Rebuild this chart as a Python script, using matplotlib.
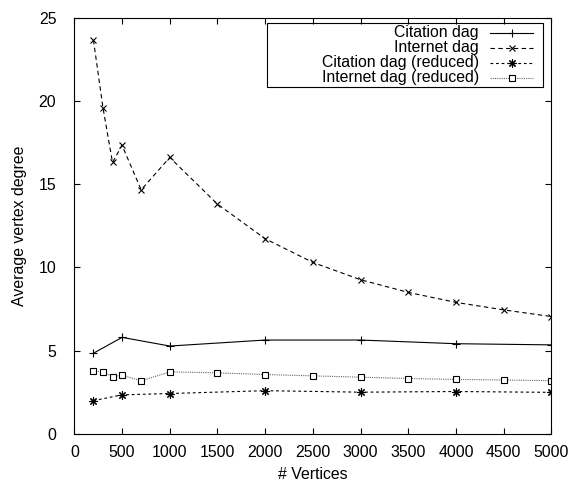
import matplotlib
matplotlib.use('Agg')
import matplotlib.pyplot as plt
from matplotlib.lines import Line2D
from matplotlib.patches import Rectangle

plt.rcParams['font.family'] = ['Liberation Sans', 'DejaVu Sans']

cit_x = [200, 500, 1000, 2000, 3000, 4000, 5000]
cit_y = [4.85, 5.8, 5.28, 5.64, 5.64, 5.42, 5.35]

net_x = [200, 300, 400, 500, 700, 1000, 1500, 2000, 2500, 3000, 3500, 4000, 4500, 5000]
net_y = [23.65, 19.58, 16.3, 17.33, 14.66, 16.6, 13.8, 11.72, 10.3, 9.26, 8.5, 7.9, 7.45, 7.05]

cit_red_x = [200, 500, 1000, 2000, 3000, 4000, 5000]
cit_red_y = [2.0, 2.35, 2.43, 2.6, 2.51, 2.55, 2.5]

net_red_x = [200, 300, 400, 500, 700, 1000, 1500, 2000, 2500, 3000, 3500, 4000, 4500, 5000]
net_red_y = [3.78, 3.74, 3.44, 3.53, 3.19, 3.73, 3.67, 3.57, 3.49, 3.41, 3.33, 3.28, 3.24, 3.2]

labels = ['Citation dag', 'Internet dag', 'Citation dag (reduced)', 'Internet dag (reduced)']

styles = [
    dict(color='black', linestyle='-', marker='+', ms=6, mew=0.8),
    dict(color='black', linestyle=(0, (4, 3)), marker='x', ms=5, mew=0.8),
    dict(color='black', linestyle=(0, (2.5, 2.5)), marker=(8, 2, 0), ms=6, mew=0.8),
    dict(color='#666666', linestyle=(0, (1, 1)), marker='s', ms=5, mew=0.8,
         mfc='white', mec='black'),
]

fs = 11.4

fig = plt.figure(figsize=(5.72, 4.82), dpi=100)
ax = fig.add_axes([0.130, 0.0996, 0.834, 0.864])

series = [(cit_x, cit_y), (net_x, net_y), (cit_red_x, cit_red_y), (net_red_x, net_red_y)]
for (xs, ys), st in zip(series, styles):
    ax.plot(xs, ys, lw=0.8, **st)

ax.set_xlim(0, 5000)
ax.set_ylim(0, 25)
ax.set_xticks(range(0, 5001, 500))
ax.set_yticks(range(0, 26, 5))
ax.tick_params(direction='in', top=True, right=True, length=4, width=0.8, labelsize=fs)
ax.tick_params(axis='x', pad=8)
ax.tick_params(axis='y', pad=13)
for s in ax.spines.values():
    s.set_linewidth(0.8)

ax.set_xlabel('# Vertices', fontsize=fs)
ax.set_ylabel('Average vertex degree', fontsize=fs)
ax.xaxis.set_label_coords(0.5, -0.079)
ax.yaxis.set_label_coords(-0.0996, 0.5)

# gnuplot style key: text right aligned, sample on the right
ax.add_patch(Rectangle((0.404, 0.834), 0.578, 0.1535, transform=ax.transAxes,
                       fill=False, lw=0.8, ec='black', zorder=5))
row_y = [0.964, 0.928, 0.892, 0.856]
for lab, st, yy in zip(labels, styles, row_y):
    ax.text(0.848, yy, lab, transform=ax.transAxes, ha='right', va='center', fontsize=fs)
    ax.add_line(Line2D([0.871, 0.962], [yy, yy], transform=ax.transAxes, lw=0.8,
                       color=st['color'], linestyle=st['linestyle']))
    ax.add_line(Line2D([0.9165], [yy], transform=ax.transAxes, linestyle='none',
                       marker=st['marker'], ms=st['ms'], mew=st['mew'],
                       mfc=st.get('mfc', 'black'), mec=st.get('mec', 'black')))

fig.savefig('out.png', dpi=100)
